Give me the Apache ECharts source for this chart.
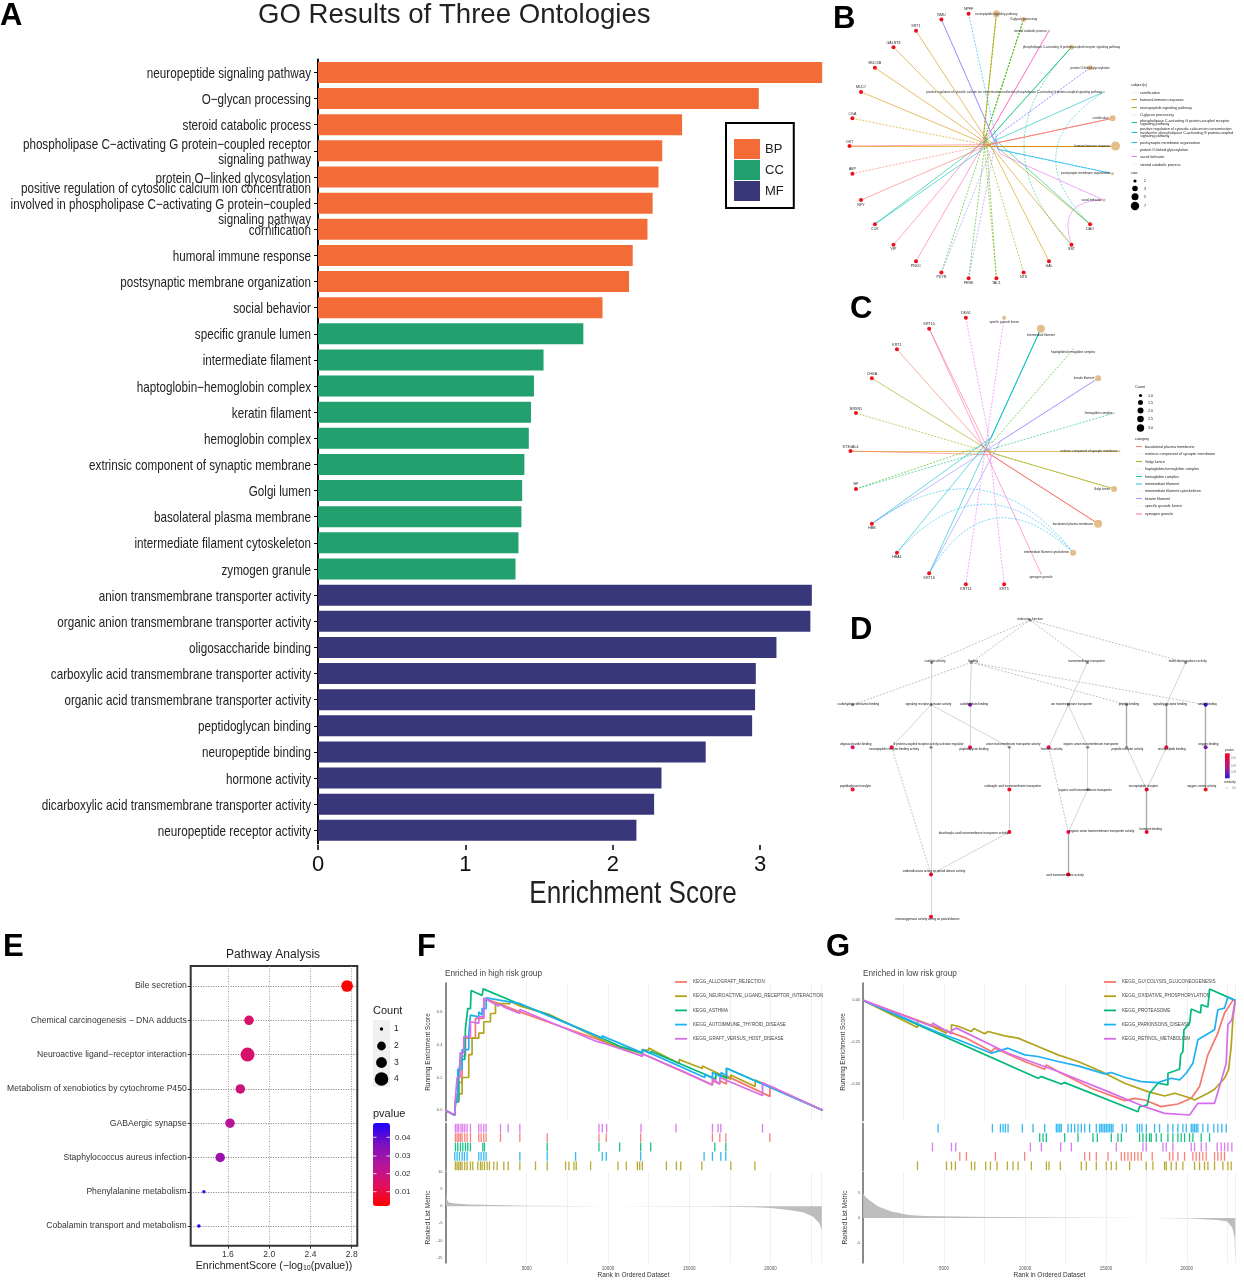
<!DOCTYPE html>
<html><head><meta charset="utf-8">
<style>html,body{margin:0;padding:0;background:#fff}#c{width:1244px;height:1280px}</style>
<script src="https://cdn.jsdelivr.net/npm/echarts@6/dist/echarts.min.js"></script>
</head><body><div id="c"></div>
<script>
// ---------- Panel A ----------
const bpTerms=['neuropeptide signaling pathway','O−glycan processing','steroid catabolic process','phospholipase C−activating G protein−coupled receptor\nsignaling pathway','protein O−linked glycosylation','positive regulation of cytosolic calcium ion concentration\ninvolved in phospholipase C−activating G protein−coupled\nsignaling pathway','cornification','humoral immune response','postsynaptic membrane organization','social behavior'];
const bpValues=[3.42,2.99,2.47,2.335,2.31,2.27,2.235,2.135,2.11,1.93];
const ccTerms=['specific granule lumen','intermediate filament','haptoglobin−hemoglobin complex','keratin filament','hemoglobin complex','extrinsic component of synaptic membrane','Golgi lumen','basolateral plasma membrane','intermediate filament cytoskeleton','zymogen granule'];
const ccValues=[1.80,1.53,1.465,1.445,1.43,1.40,1.385,1.38,1.36,1.34];
const mfTerms=['anion transmembrane transporter activity','organic anion transmembrane transporter activity','oligosaccharide binding','carboxylic acid transmembrane transporter activity','organic acid transmembrane transporter activity','peptidoglycan binding','neuropeptide binding','hormone activity','dicarboxylic acid transmembrane transporter activity','neuropeptide receptor activity'];
const mfValues=[3.35,3.34,3.11,2.97,2.965,2.945,2.63,2.33,2.28,2.16];
const aTicks=[0,1,2,3];

// ---------- Panels B, C: term-gene networks ----------
const hue10=['#F8766D','#D89000','#A3A500','#39B600','#00BF7D','#00BFC4','#00B0F6','#9590FF','#E76BF3','#FF62BC'];
const bTerms=['cornification','humoral immune response','neuropeptide signaling pathway','O-glycan processing','phospholipase C-activating G protein-coupled receptor\nsignaling pathway','positive regulation of cytosolic calcium ion concentration\ninvolved in phospholipase C-activating G protein-coupled\nsignaling pathway','postsynaptic membrane organization','protein O-linked glycosylation','social behavior','steroid catabolic process'];
const bTermAt=[29,0,23,24,26,28,1,27,2,25];
const bTermCount=[6,9,7,5,5,2,3,5,3,2];
const bGenes=['DAO','SST','GAL','NTS','TAC1','PENK','PDYN','PNOC','VIP','CCK','NPY','AVP','OXT','CGA','MUC7','MUC5B','GALNT8','KRT1','NMU','NPFF','HCRT','NPB','NRXN1'];
const bEdges=[[15,0,1,0],[16,0,1,1],[17,0,1,0],[18,0,1,0],[19,0,1,0],[20,0,1,0],[4,0,1,0],[5,0,1,0],
 [6,23,2,1],[7,23,2,1],[3,23,2,0],[7,24,3,1],[8,24,3,1],[9,24,3,1],[3,26,4,0],[12,26,4,0],[12,28,5,0],
 [22,1,6,1],[21,1,6,0],[8,27,7,1],[9,27,7,1],[21,2,8,0],[10,25,9,0],[11,25,9,0],[13,29,0,0],[14,29,0,1],[15,29,0,0]];
const bArcs=[[3,28,5,1,0.62],[4,2,8,0,0.7],[4,26,4,1,0.48]];

const cTerms=['basolateral plasma membrane','extrinsic component of synaptic membrane','Golgi lumen','haptoglobin-hemoglobin complex','hemoglobin complex','intermediate filament','intermediate filament cytoskeleton','keratin filament','specific granule lumen','zymogen granule'];
const cTermAt=[2,0,1,19,21,18,3,20,17,4];
const cTermCount=[8,2,6,1.5,1.5,8,6,6,4,2];
const cGenes=['KRT5','KRT14','KRT16','HBA1','HBB','HP','ST3GAL4','NRXN1','CHGA','KRT1','KRT10','DSG1'];
const cEdges=[[11,0,1,0],[11,2,0,0],[14,2,0,0],[15,2,0,0],[13,1,2,0],[12,1,2,1],[10,19,3,1],[10,21,4,1],
 [9,18,5,0],[8,18,5,0],[7,18,5,0],[9,20,7,0],[7,20,7,0],[15,4,9,0],[6,17,8,1],[16,5,8,1]];
const cArcs=[[9,3,6,1,0.48],[8,3,6,1,0.55],[7,3,6,1,0.62]];

// ---------- Panel D: GO DAG ----------
const dNames=['molecular_function','catalytic activity','binding','transmembrane transporter','molecular transducer activity','carbohydrate derivative binding','signaling receptor activator activity','carbohydrate binding','ion transmembrane transporter','peptide binding','signaling receptor binding','amide binding','oligosaccharide binding','neuropeptide receptor binding activity','G protein-coupled receptor activity activator regulator','peptidoglycan binding','anion transmembrane transporter activity','hormone activity','organic anion transmembrane transporter','peptide receptor activity','neuropeptide binding','oxygen binding','peptidoglycan muralytic','carboxylic acid transmembrane transporter','organic acid transmembrane transporter','neuropeptide receptor','oxygen carrier activity','dicarboxylic acid transmembrane transporter activity','organic anion transmembrane transporter activity','hormone binding','oxidoreductase acting on paired donors activity','acid transmembrane activity','monooxygenase activity acting on paired donors'];
const dCol=[600,305,424,772,1067,68,303,420,715,890,1009,1127,68,185,303,420,538,656,773,890,1009,1127,68,538,773,950,1127,538,715,950,303,715,303];
const dLevel=[0,1,1,1,1,2,2,2,2,2,2,2,3,3,3,3,3,3,3,3,3,3,4,4,4,4,4,5,5,5,6,6,7];
const dLabelX=[600,315,430,770,1073,85,295,432,725,897,1020,1132,77,192,295,432,550,665,783,892,1025,1135,77,548,765,940,1115,430,815,962,312,705,292];
const dLabelShift=[0,0,0,0,0,0,0,0,0,0,0,0,-2,3,-2,3,-2,3,-2,3,3,-2,-2,-2,2,-2,-2,2,0,-2,-2,2,3];
const dPvalueColor=['#888','#888','#888','#888','#888','#888','#888','#8a17b0','#888','#888','#888','#2314d8','#d5106c','#ee1040','#888','#e81048','#888','#e01050','#888','#888','#e8103f','#6f20a0','#f01030','#f01024','#888','#f00028','#f01024','#f00028','#ee1040','#f00028','#f00020','#f00020','#f00020'];
const dEdges=[[0,1,1],[0,2,1],[0,3,1],[0,4,1],[2,5,1],[2,9,1],[2,11,1],[2,7,0],[7,15,0],[1,6,0],[6,14,0],[14,30,0],[6,13,0],[6,16,0],[16,23,0],[23,27,0],[27,30,0],[13,30,1],[30,32,0],[3,8,0],[8,17,0],[8,18,0],[18,24,0],[24,28,0],[17,28,1],[28,31,2],[9,19,2],[19,25,0],[20,25,0],[10,20,2],[4,10,0],[25,29,2],[11,21,2],[21,26,2]];

// ---------- Panel E ----------
const eTerms=['Bile secretion','Chemical carcinogenesis − DNA adducts','Neuroactive ligand−receptor interaction','Metabolism of xenobiotics by cytochrome P450','GABAergic synapse','Staphylococcus aureus infection','Phenylalanine metabolism','Cobalamin transport and metabolism'];
const eScore=[2.755,1.804,1.79,1.72,1.62,1.525,1.367,1.318];
const ePvalue=[0.002,0.016,0.016,0.019,0.024,0.03,0.043,0.048];
const eCount=[3,2,4,2,2,2,1,1];
const eSizeOfCount={1:3.5,2:9.5,3:11.7,4:14};

// ---------- Panel F ----------
const fNames=['KEGG_ALLOGRAFT_REJECTION','KEGG_NEUROACTIVE_LIGAND_RECEPTOR_INTERACTION','KEGG_ASTHMA','KEGG_AUTOIMMUNE_THYROID_DISEASE','KEGG_GRAFT_VERSUS_HOST_DISEASE'];
const fRed=[[0,0],[575,-.03],[616,.05],[821,.05],[821,.17],[1027,.17],[1027,.33],[1232,.33],[1232,.44],[1848,.44],[1848,.56],[2361,.56],[2361,.66],[2505,.68],[4579,.60],[4579,.61],[6262,.54],[6262,.55],[9444,.43],[9854,.415],[12113,.33],[12113,.345],[16424,.155],[16424,.18],[16876,.16],[16876,.18],[17286,.16],[17286,.21],[19955,.085],[19955,.148],[23200,0]];
const fOlive=[[0,0],[575,-.03],[616,.03],[720,.03],[720,.10],[1027,.10],[1027,.20],[1437,.20],[1437,.34],[1640,.34],[1640,.44],[2053,.44],[2053,.47],[2361,.47],[2361,.54],[2772,.54],[2772,.59],[3080,.59],[3080,.65],[3980,.65],[3980,.665],[4619,.635],[4619,.645],[6364,.585],[10000,.41],[12113,.345],[12113,.37],[12500,.365],[12500,.38],[14370,.285],[14370,.31],[15800,.255],[15800,.27],[17550,.19],[17550,.215],[19050,.145],[19050,.185],[23200,0]];
const fGreen=[[0,0],[575,-.03],[616,.06],[821,.06],[821,.23],[924,.23],[924,.31],[1191,.31],[1232,.50],[1334,.50],[1376,.62],[1540,.62],[1581,.73],[2258,.70],[2320,.74],[4619,.645],[6364,.58],[9403,.45],[9403,.46],[10717,.39],[10717,.40],[12113,.35],[12113,.37],[12626,.345],[12626,.36],[16424,.20],[16630,.19],[16630,.225],[17286,.195],[17286,.257],[23200,0]];
const fBlue=[[0,0],[575,-.03],[616,.05],[760,.05],[760,.25],[1027,.25],[1027,.37],[1437,.37],[1437,.47],[1540,.47],[1540,.58],[2053,.57],[2053,.60],[2258,.58],[2258,.62],[2505,.62],[2505,.685],[4619,.65],[4619,.655],[6364,.575],[9650,.44],[9650,.455],[9954,.44],[9954,.45],[12113,.35],[12113,.37],[15960,.20],[15960,.22],[16424,.195],[16424,.23],[16953,.205],[16953,.23],[17286,.21],[17286,.257],[23200,0]];
const fMagenta=[[0,0],[575,-.03],[616,.08],[720,.08],[720,.20],[900,.20],[900,.35],[1130,.35],[1130,.45],[1540,.45],[1540,.54],[2053,.53],[2053,.57],[2361,.57],[2361,.685],[3285,.635],[3285,.65],[3695,.625],[3695,.635],[4579,.59],[4579,.615],[9300,.42],[9300,.43],[9700,.41],[9700,.42],[12113,.33],[12113,.345],[14576,.24],[14576,.25],[16424,.155],[16424,.195],[16876,.16],[16876,.20],[19504,.09],[19504,.168],[23200,0]];
const fRugMagenta=[616,719,821,965,1068,1191,1334,1540,2053,2197,2361,2505,3388,3860,4578,9444,9649,9916,12030,14186,16424,16773,16938,19504];
const fRugRed=[616,719,821,924,1027,1191,1334,1540,2053,2197,2361,2505,3388,4578,6262,9444,9896,12010,16424,16876,17245,19955];
const fRugGreen=[616,760,924,1068,1232,1376,1540,2300,2402,6262,9444,10717,12010,12626,16568,17245];
const fRugBlue=[575,719,862,1027,1170,1334,2053,2197,2361,2505,4578,6262,8007,9649,9896,12010,15911,16424,16938,17245];
const fRugOlive=[616,719,821,924,1027,1191,1334,1540,1683,1991,2156,2258,2402,2566,2710,2977,3183,3593,3860,4578,5543,6262,7391,7596,7904,8048,8930,10614,11127,11805,11949,12113,13591,14207,14474,15767,17553,19031];
const fMetric=[[0,10],[40,4],[100,2],[200,1.1],[600,.8],[1500,.5],[3000,.35],[5000,.15],[8000,.05],[10000,0],[14000,-.05],[16000,-.1],[19000,-.3],[20000,-.5],[21000,-1],[22000,-1.8],[22600,-3],[23000,-5],[23150,-7]];

// ---------- Panel G ----------
const gNames=['KEGG_GLYCOLYSIS_GLUCONEOGENESIS','KEGG_OXIDATIVE_PHOSPHORYLATION','KEGG_PROTEASOME','KEGG_PARKINSONS_DISEASE','KEGG_RETINOL_METABOLISM'];
const gRed=[[0,0],[6380,-.226],[7923,-.306],[8129,-.286],[9981,-.366],[11216,-.412],[11319,-.386],[12039,-.426],[14097,-.526],[16155,-.6],[16773,-.586],[17390,-.596],[18419,-.636],[19448,-.62],[20272,-.586],[20786,-.516],[21301,-.326],[21917,-.196],[22330,-.076],[22844,0],[22988,0]];
const gOlive=[[0,0],[3355,-.162],[3355,-.12],[4281,-.156],[5145,-.196],[5145,-.176],[5454,-.2],[5454,-.146],[5865,-.155],[6689,-.186],[6833,-.168],[7512,-.2],[7718,-.186],[8747,-.212],[9570,-.226],[10805,-.276],[12039,-.326],[13274,-.366],[14715,-.426],[16155,-.496],[17596,-.546],[18625,-.572],[19243,-.556],[20272,-.586],[20478,-.596],[21301,-.556],[21713,-.532],[22330,-.466],[22577,-.416],[22741,-.276],[22844,-.116],[22988,0]];
const gGreen=[[0,0],[10805,-.466],[11010,-.456],[12245,-.5],[12451,-.492],[16979,-.666],[17081,-.636],[17555,-.626],[17700,-.556],[18213,-.496],[18831,-.506],[18831,-.436],[19551,-.412],[19617,-.326],[19757,-.306],[19823,-.176],[20171,-.136],[20272,-.052],[20848,-.076],[20889,-.026],[21301,-.04],[21403,.068],[22988,0]];
const gBlue=[[0,0],[4630,-.192],[5865,-.236],[7923,-.316],[8952,-.286],[9981,-.326],[10805,-.336],[12039,-.366],[13274,-.392],[14920,-.44],[15332,-.432],[16155,-.46],[17184,-.486],[18213,-.492],[19036,-.466],[19551,-.476],[19963,-.436],[20374,-.376],[20683,-.236],[21713,-.176],[21917,-.056],[22330,-.046],[22536,.02],[22988,0]];
const gMagenta=[[0,0],[4281,-.156],[4281,-.136],[5454,-.2],[5454,-.18],[5762,-.166],[8952,-.316],[12039,-.426],[15126,-.546],[17390,-.636],[18625,-.676],[20169,-.686],[20683,-.616],[21713,-.616],[22021,-.516],[22432,-.376],[22536,-.146],[22782,-.116],[22988,0]];
const gRugBlue=[4630,7985,8479,8644,8788,8952,9837,10496,11216,11936,12039,12142,12245,12657,12863,13068,13274,13480,13686,13994,14406,14612,14715,14818,14920,15023,15126,15229,15332,15435,16011,16258,16937,17081,17225,17493,18008,18316,18831,19139,19448,19757,19963,20272,20374,20477,20580,20683,20992,21301,21671,21917,22164,22432];
const gRugGreen=[10907,11113,11319,12451,13274,14200,14468,15332,15744,15950,17081,17287,17493,17699,17802,18110,18419,18831,19139,19448,19654,19860,20168,20374,20889,21403];
const gRugMagenta=[4281,5454,5721,10331,11010,12204,12863,15641,17287,17493,18522,18728,19139,20272,20477,20889,21197,21877,22124,22330,22536,22782];
const gRugRed=[5968,6380,8170,9981,13686,13994,14406,15126,15950,16155,16361,16567,16773,16979,17184,17863,18934,19139,19448,19860,20374,20580,20786,20992,21197,21713,21917,22124,22330];
const gRugOlive=[3355,5145,5454,5701,6689,6894,7573,7862,8273,8911,9261,9570,10393,11319,11484,12183,13480,13789,14406,15023,15332,15641,16464,17493,17905,18625,18728,19036,19345,19757,20477,20786,21095,21301,21713,22226,22536,22741];
const gMetric=[[0,5.1],[100,4.4],[400,3.5],[926,2.3],[1750,1.3],[2800,.6],[3800,.4],[7900,.2],[14000,.05],[18000,-.02],[20300,-.1],[21900,-.4],[22500,-.7],[22820,-2],[22950,-4],[22988,-8.4]];

// ========== build ==========
const SANS='"Liberation Sans",Arial,sans-serif';
const ORANGE='#F36C37',GREEN='#22A06E',NAVY='#38377A';
const GS={red:'#F8766D',olive:'#B2A21C',green:'#00BA78',blue:'#1FB0F2',magenta:'#D66DEC'};
const grid=[],xAxis=[],yAxis=[],series=[],title=[],legend=[],polar=[],radiusAxis=[],angleAxis=[],gfx=[];
function addGrid(g,x,y){grid.push(Object.assign({outerBoundsMode:'none'},g));const i=grid.length-1;xAxis.push(Object.assign({gridIndex:i},x));yAxis.push(Object.assign({gridIndex:i},y));return i;}
function t(text,left,top,font,extra){title.push({text,left,top,padding:0,textStyle:Object.assign({fontFamily:SANS,fontSize:font,fontWeight:'normal',color:'#222'},extra||{})});}
const txt=(text,x,y,size,extra)=>gfx.push({type:'text',silent:true,z:50,style:Object.assign({text,x,y,font:size+'px '+SANS,fill:'#222',textVerticalAlign:'middle',lineHeight:size*1.05},extra||{})});
const narrow=(text,x,y,size,scale,align,lh)=>gfx.push({type:'text',silent:true,z:50,x,y,scaleX:scale,style:{text,x:0,y:0,font:size+'px '+SANS,fill:'#222',textAlign:align,textVerticalAlign:'middle',lineHeight:lh||size*1.05}});
const seg=(x1,y1,x2,y2,c,w,o)=>gfx.push({type:'line',silent:true,z:50,shape:{x1,y1,x2,y2},style:{stroke:c,lineWidth:w,opacity:o==null?1:o}});
const dot=(cx,cy,r,c)=>gfx.push({type:'circle',silent:true,z:50,shape:{cx,cy,r},style:{fill:c||'#000'}});
const box=(x,y,width,height,fill,z)=>gfx.push({type:'rect',silent:true,z:z||40,shape:{x,y,width,height},style:{fill}});

// panel letters & titles
[['A',0,1],['B',833,4],['C',850,294],['D',850,615],['E',3,932],['F',417,932],['G',826,932]].forEach(l=>t(l[0],l[1],l[2],31,{fontWeight:'bold',color:'#000'}));
t('GO Results of Three Ontologies',258,1,27.6,{color:'#222'});

// ---- A ----
const aCats=bpTerms.concat(ccTerms,mfTerms);
const ia=addGrid({left:318,top:59.4,width:513,height:784},
 {type:'value',min:0,max:3.48,offset:1.5,splitLine:{show:false},axisLine:{onZero:false,lineStyle:{color:'#000',width:2}},axisTick:{show:true,length:5,customValues:aTicks,lineStyle:{color:'#000',width:1.5}},axisLabel:{customValues:aTicks,fontFamily:SANS,fontSize:22,color:'#111',margin:9}},
 {type:'category',inverse:true,data:aCats,axisLine:{lineStyle:{color:'#000',width:2}},axisTick:{show:true,length:4,alignWithLabel:true,lineStyle:{color:'#000'}},axisLabel:{show:false},splitLine:{show:false}});
const nulls=n=>Array(n).fill(null);
[['BP',bpValues,ORANGE,0],['CC',ccValues,GREEN,10],['MF',mfValues,NAVY,20]].forEach(s=>{
 series.push({type:'bar',name:s[0],stack:'go',xAxisIndex:ia,yAxisIndex:ia,barWidth:21,itemStyle:{color:s[2]},data:nulls(s[3]).concat(s[1],nulls(20-s[3]))});
});
legend.push({data:['BP','CC','MF'],orient:'vertical',left:726,top:123,itemWidth:26,itemHeight:20,itemGap:1,itemStyle:{borderWidth:0},icon:'rect',padding:[16,10,7,8],itemTextGap:9,borderColor:'#000',borderWidth:2,textStyle:{fontFamily:SANS,fontSize:13,color:'#222'},selectedMode:false});

// ---- networks on polar ----
function network(center,radius,n,terms,termAt,termCount,genes,edges,arcs,labelRule,pal){
 polar.push({center,radius});const pi=polar.length-1;
 radiusAxis.push({polarIndex:pi,min:0,max:1,show:false});
 angleAxis.push({polarIndex:pi,min:0,max:360,startAngle:0,clockwise:true,show:false});
 const step=360/n,nodes=[];let g=0;
 const isTerm={};termAt.forEach((k,i)=>isTerm[k]=i);
 for(let k=0;k<n;k++){
  const ti=isTerm[k];
  if(ti!=null){nodes.push({name:terms[ti].replace(/\n/g,' '),value:[1,k*step],symbolSize:termCount[ti],itemStyle:{color:'#E2BE8B'},label:{show:true,fontSize:3,color:'#222',position:labelRule(k),distance:1}});}
  else{nodes.push({name:genes[g++],value:[1,k*step],symbolSize:4,itemStyle:{color:'#F0101C'},label:{show:true,fontSize:3.6,color:'#222',position:(k*step>20&&k*step<160)?'bottom':'top',distance:0.5}});}
 }
 // one junction per term near the middle of the circle, so that each bundle bends there
 terms.forEach((tn,i)=>{nodes.push({name:'junction'+i,value:[0.05+0.012*i,termAt[i]*step],symbolSize:0,itemStyle:{opacity:0},label:{show:false}});});
 const links=[];
 const ls=(c,d,w,cv)=>({color:pal[c],width:w,type:d?[2,1.4]:'solid',opacity:.75,curveness:cv||0});
 edges.forEach(e=>{const h=n+e[2];
  links.push({source:e[0],target:h,lineStyle:ls(e[2],e[3],.8)});
  links.push({source:h,target:e[1],lineStyle:ls(e[2],e[3],.8)});});
 arcs.forEach(a=>links.push({source:a[0],target:a[1],lineStyle:ls(a[2],a[3],.7,a[4])}));
 series.push({type:'graph',coordinateSystem:'polar',polarIndex:pi,layout:'none',roam:false,silent:true,symbol:'circle',data:nodes,links,emphasis:{disabled:true},label:{show:true,fontFamily:SANS},z:3});
}
network([982.5,146],133,30,bTerms,bTermAt,bTermCount,bGenes,bEdges,bArcs,k=>(k===0||k===29||k===1||k===2||k===28||k===25)?'left':'inside',hue10);
network([985,451],134.5,22,cTerms,cTermAt,cTermCount,cGenes,cEdges,cArcs,k=>(k===17||k===4||k===19||k===18)?'bottom':'left',hue10);

// ---- D ----
const idd=addGrid({left:830,top:620,width:414,height:296.8},
 {type:'value',min:0,max:1242,show:false,splitLine:{show:false}},{type:'value',min:0,max:7,inverse:true,show:false,splitLine:{show:false}});
series.push({type:'graph',coordinateSystem:'cartesian2d',xAxisIndex:idd,yAxisIndex:idd,layout:'none',silent:true,symbol:'circle',emphasis:{disabled:true},
 data:dNames.map((nm,i)=>({name:nm,value:[dCol[i],dLevel[i]],symbolSize:dPvalueColor[i]==='#888'?3:4,itemStyle:{color:dPvalueColor[i]},label:{show:true,position:'inside',fontSize:3,color:'#111',offset:[(dLabelX[i]-dCol[i])/3,dLabelShift[i]-1]}})),
 links:dEdges.map(e=>({source:e[0],target:e[1],lineStyle:{color:e[2]===2?'#a8a8a8':(e[2]===1?'#9a9a9a':'#cfcfcf'),width:e[2]===2?1.3:(e[2]===1?.6:.9),type:e[2]===1?[2,1.4]:'solid',opacity:1,curveness:0}}))});

// ---- E ----
const ie=addGrid({left:190.7,top:966,width:166.6,height:279.7,show:true,borderColor:'#333',borderWidth:2,backgroundColor:'#fff'},
 {type:'value',min:1.239,max:2.854,axisLine:{show:false,onZero:false},axisTick:{show:true,length:3,customValues:[1.6,2.0,2.4,2.8],lineStyle:{color:'#333'}},axisLabel:{customValues:[1.6,2.0,2.4,2.8],formatter:v=>v.toFixed(1),fontFamily:SANS,fontSize:8.5,color:'#333',margin:4},splitLine:{show:true,lineStyle:{type:[1,1.5],color:'#888',width:.8}},name:'EnrichmentScore (−log{s|10}(pvalue))',nameLocation:'middle',nameGap:15,nameTextStyle:{fontFamily:SANS,fontSize:10.5,color:'#222',rich:{s:{fontSize:7,verticalAlign:'bottom',fontFamily:SANS,color:'#222'}}}},
 {type:'value',inverse:true,min:-0.583,max:7.572,axisLine:{show:false,onZero:false},axisTick:{show:true,length:3,customValues:[0,1,2,3,4,5,6,7],lineStyle:{color:'#333'}},axisLabel:{customValues:[0,1,2,3,4,5,6,7],formatter:v=>eTerms[Math.round(v)],fontFamily:SANS,fontSize:8.6,color:'#333',margin:4},splitLine:{show:true,lineStyle:{type:[1,1.5],color:'#555',width:.8}}});
const eSeriesIndex=series.length;
series.push({type:'scatter',name:'Pathway',xAxisIndex:ie,yAxisIndex:ie,data:eScore.map((v,i)=>[v,i,ePvalue[i],eCount[i]]),symbolSize:d=>eSizeOfCount[d[3]],encode:{x:0,y:1},itemStyle:{opacity:1},z:5});
t('Pathway Analysis',226,949,12,{color:'#222'});
t('Count',373,1005,11,{color:'#222'});
t('pvalue',373,1108,11,{color:'#222'});
box(373,1020,17,67,'#f0f0f0',10);
[[1,1029,1.7],[2,1046,4.4],[3,1062.5,5.4],[4,1079,6.8]].forEach(c=>{dot(381.5,c[1],c[2]);txt(String(c[0]),394,c[1],8.5);});
[['0.04',1137.3],['0.03',1156],['0.02',1173.7],['0.01',1191.7]].forEach(c=>{txt(c[0],395,c[1],8,{fill:'#333'});seg(373,c[1],376.5,c[1],'#fff',.8);seg(386.5,c[1],390,c[1],'#fff',.8);});

// ---- F & G ----
function gsea(o){
 const w=o.width, xCommon={type:'value',min:0,max:o.xMax,interval:2500,axisLine:{show:false,onZero:false},axisTick:{show:false},splitLine:{show:true,lineStyle:{color:'#ececec',width:.8}}};
 const spine={lineStyle:{color:'#666',width:1.5},onZero:false};
 const yLab=(sz)=>({fontFamily:SANS,fontSize:sz,color:'#555',margin:3});
 const i1=addGrid({left:o.left,top:983,width:w,height:o.h1},
  Object.assign({},xCommon,{axisLabel:{show:false}}),
  {type:'value',min:o.yMin,max:o.yMax,axisLine:spine,axisTick:{show:false},splitLine:{show:false},axisLabel:Object.assign(yLab(4),{customValues:o.yTicks,formatter:v=>v.toFixed(o.yDec)}),name:'Running Enrichment Score',nameLocation:'middle',nameGap:o.nameGap,nameTextStyle:{fontFamily:SANS,fontSize:6.5,color:'#333'}});
 o.lines.forEach(l=>series.push({type:'line',name:l[0],xAxisIndex:i1,yAxisIndex:i1,data:l[1],showSymbol:false,symbol:'none',lineStyle:{color:l[2],width:1.7},itemStyle:{color:l[2]},z:4,clip:true}));
 const i2=addGrid({left:o.left,top:1123.5,width:w,height:47},
  Object.assign({},xCommon,{axisLabel:{show:false},splitLine:{show:false}}),
  {type:'value',inverse:true,min:-0.5,max:4.5,axisLine:spine,axisTick:{show:false},axisLabel:{show:false},splitLine:{show:false}});
 o.rugs.forEach((r,row)=>series.push({type:'scatter',xAxisIndex:i2,yAxisIndex:i2,symbol:'rect',symbolSize:[1.3,8.8],data:r[0].map(v=>[v,row]),itemStyle:{color:r[1],opacity:.9},z:4}));
 const i3=addGrid({left:o.left,top:1172,width:w,height:91},
  Object.assign({},xCommon,{axisLabel:{formatter:v=>(v>0&&v%5000===0)?String(v):'',interval:0,fontFamily:SANS,fontSize:4.5,color:'#555',margin:3,hideOverlap:false},name:'Rank in Ordered Dataset',nameLocation:'middle',nameGap:9,nameTextStyle:{fontFamily:SANS,fontSize:6.5,color:'#333'}}),
  {type:'value',min:o.mMin,max:o.mMax,axisLine:spine,axisTick:{show:false},splitLine:{show:false},axisLabel:Object.assign(yLab(4),{customValues:o.mTicks}),name:'Ranked List Metric',nameLocation:'middle',nameGap:o.nameGap,nameTextStyle:{fontFamily:SANS,fontSize:6.5,color:'#333'}});
 series.push({type:'line',xAxisIndex:i3,yAxisIndex:i3,data:o.metric,showSymbol:false,symbol:'none',lineStyle:{width:0,color:'#bdbdbd'},itemStyle:{color:'#bdbdbd'},areaStyle:{color:'#bdbdbd',opacity:1},z:4});
 legend.push({data:o.lines.slice().sort((a,b)=>a[3]-b[3]).map(l=>l[0]),orient:'vertical',left:o.legLeft,top:979.5,itemWidth:12,itemHeight:1.8,itemGap:9.2,itemStyle:{borderWidth:0},lineStyle:{width:1.8},icon:'rect',padding:0,selectedMode:false,textStyle:{fontFamily:SANS,fontSize:4.6,color:'#444',padding:[0,0,0,1]},itemTextGap:5});
 t(o.title,o.titleLeft,970,8.2,{color:'#444'});
}
gsea({left:445.4,width:376.3,xMax:23143,h1:138,yMin:-.065,yMax:.776,yTicks:[0,.2,.4,.6],yDec:1,nameGap:14,mMin:-16.6,mMax:10,mTicks:[10,5,0,-5,-10,-15],legLeft:675,titleLeft:445,title:'Enriched in high risk group',
 lines:[[fNames[0],fRed,GS.red,0],[fNames[1],fOlive,GS.olive,1],[fNames[2],fGreen,GS.green,2],[fNames[3],fBlue,GS.blue,3],[fNames[4],fMagenta,GS.magenta,4]],
 rugs:[[fRugMagenta,GS.magenta],[fRugRed,GS.red],[fRugGreen,GS.green],[fRugBlue,GS.blue],[fRugOlive,GS.olive]],metric:fMetric});
gsea({left:863.2,width:372.5,xMax:23020,h1:137.7,yMin:-.72,yMax:.104,yTicks:[-.5,-.25,0],yDec:2,nameGap:14,mMin:-9.06,mMax:9.26,mTicks:[5,0,-5],legLeft:1104,titleLeft:863,title:'Enriched in low risk group',
 lines:[[gNames[0],gRed,GS.red,0],[gNames[1],gOlive,GS.olive,1],[gNames[2],gGreen,GS.green,2],[gNames[3],gBlue,GS.blue,3],[gNames[4],gMagenta,GS.magenta,4]],
 rugs:[[gRugBlue,GS.blue],[gRugGreen,GS.green],[gRugMagenta,GS.magenta],[gRugRed,GS.red],[gRugOlive,GS.olive]],metric:gMetric});

// ---- legends of B, C, D ----
txt('subject(s)',1131,85,3.7);
const bLegY=[93,99.5,107.5,115,122.5,132.5,142.5,149.5,156.5,164.5];
const bLegAlpha=[.15,1,1,.15,1,1,1,.15,1,.15];
bTerms.forEach((s,i)=>{txt(s,1140,bLegY[i],3.7);seg(1131.5,bLegY[i],1137,bLegY[i],hue10[i],.9,bLegAlpha[i]);});
txt('size',1131,173,3.7);
[[2,181,1.6],[3,188.5,2.8],[5,196.7,3.5],[7,206,4.2]].forEach(c=>{dot(1135,c[1],c[2]);txt(String(c[0]),1144,c[1],3.7);});
txt('Count',1135,387,3.7);
[['1.0',395.5,1.6],['1.5',402.5,2.5],['2.0',410.5,3],['2.5',419,3.3],['3.0',428,3.7]].forEach(c=>{dot(1140.5,c[1],c[2]);txt(c[0],1148,c[1],3.7);});
txt('category',1135,438.5,3.7);
const cLegY=[446.5,454,461.5,469,476.5,484,491,498.5,506,514];
const cLegAlpha=[1,.12,1,.12,1,1,.12,1,.12,1];
cTerms.forEach((s,i)=>{txt(s,1145,cLegY[i],3.7);seg(1136,cLegY[i],1142,cLegY[i],hue10[i],.9,cLegAlpha[i]);});
txt('pvalue',1225,750,3,{});
gfx.push({type:'rect',silent:true,z:50,shape:{x:1225,y:753.3,width:4.7,height:25},style:{fill:new echarts.graphic.LinearGradient(0,0,0,1,[{offset:0,color:'#ff0022'},{offset:.6,color:'#a0208f'},{offset:1,color:'#2a18e0'}])}});
[['0.01',758],['0.02',766],['0.03',772]].forEach(c=>txt(c[0],1231,c[1],2.6,{fill:'#777'}));
txt('similarity',1224,782,3);
seg(1225,788,1229,788,'#ccc',.8);txt('0.4',1232,788,2.6,{fill:'#777'});

const option={animation:false,backgroundColor:'#fff',title,grid,xAxis,yAxis,polar,radiusAxis,angleAxis,legend,series,
 visualMap:[{type:'continuous',seriesIndex:eSeriesIndex,dimension:2,min:0.0021,max:0.0479,left:373,top:1123,itemWidth:17,itemHeight:83,padding:0,text:null,calculable:false,realtime:false,hoverLink:false,inRange:{color:['#ff0000','#e0105e','#b4149c','#7a10c0','#1a00ff']},textStyle:{fontSize:0}}]};
const chart=echarts.init(document.getElementById('c'),null,{renderer:'canvas'});
chart.setOption(option);
// condensed tick labels and axis name of panel A, placed by the chart's own category scale
aCats.forEach((c,i)=>{const y=chart.convertToPixel({yAxisIndex:ia},i);narrow(c,311,y+1.5,14.5,0.805,'right',15.5);});
narrow('Enrichment Score',633,894,32,0.815,'center');
chart.setOption({graphic:{elements:gfx}});
</script></body></html>
